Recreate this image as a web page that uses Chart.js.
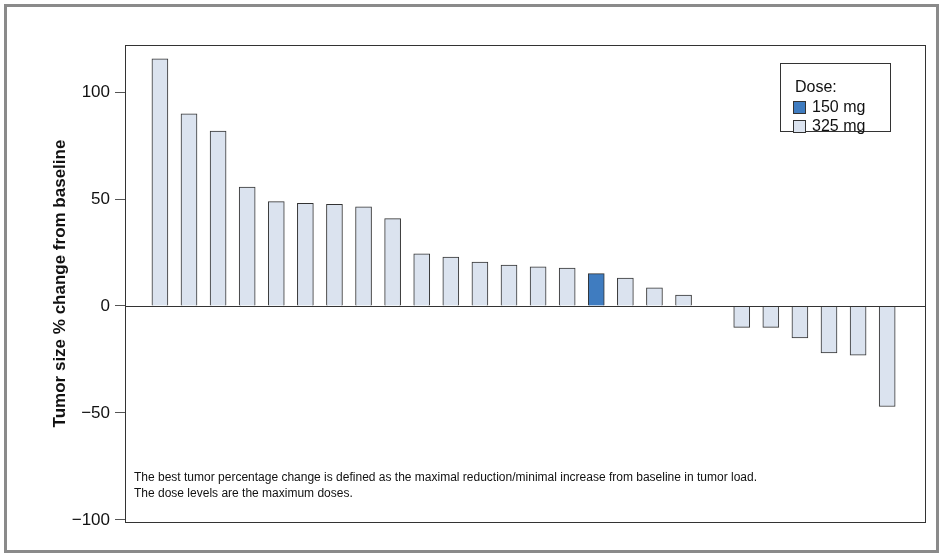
<!DOCTYPE html>
<html>
<head>
<meta charset="utf-8">
<script src="https://cdn.jsdelivr.net/npm/chart.js@4"></script>
<style>
  body { margin: 0; background: #fff; }
  #frame { position: absolute; left: 4px; top: 4px; width: 929px; height: 543px; border: 3px solid #8a8a8a; }
  #wrap { position: absolute; left: 0; top: 0; width: 941px; height: 555px; }
</style>
</head>
<body>
<div id="frame"></div>
<div id="wrap"><canvas id="c" width="941" height="555"></canvas></div>
<script>
const positions = [0,1,2,3,4,5,6,7,8,9,10,11,12,13,14,15,16,17,18,20,21,22,23,24,25];
const changes = [115.5,89.8,81.8,55.6,48.8,48,47.5,46.4,40.8,24.4,22.8,20.5,19.1,18.3,17.7,15.1,13,8.5,5.1,-10,-10,-15,-22,-23,-47];
const doses = [325,325,325,325,325,325,325,325,325,325,325,325,325,325,325,150,325,325,325,325,325,325,325,325,325];
const yTicks = [100, 50, 0, -50, -100];
const footnote = [
  "The best tumor percentage change is defined as the maximal reduction/minimal increase from baseline in tumor load.",
  "The dose levels are the maximum doses."
];
const doseColor = { 150: "#3f7cc0", 325: "#dbe3ef" };

const boxPlugin = {
  id: "box",
  afterDraw(chart) {
    const { ctx, chartArea: a, scales } = chart;
    ctx.save();
    ctx.strokeStyle = "#333";
    ctx.lineWidth = 1;
    ctx.strokeRect(a.left + 0.5, a.top + 0.5, a.right - a.left, a.bottom - a.top);
    const y0 = Math.round(scales.y.getPixelForValue(0)) + 0.5;
    ctx.beginPath(); ctx.moveTo(a.left, y0); ctx.lineTo(a.right, y0); ctx.stroke();
    // legend
    ctx.fillStyle = "#fff";
    ctx.fillRect(780, 63, 110, 68);
    ctx.strokeRect(780.5, 63.5, 110, 68);
    ctx.fillStyle = "#111";
    ctx.font = "16px 'Liberation Sans', Arial, sans-serif";
    ctx.textBaseline = "middle";
    ctx.fillText("Dose:", 795, 88);
    [[150, 108], [325, 127]].forEach(([d, y]) => {
      ctx.fillStyle = doseColor[d];
      ctx.fillRect(793, y - 7, 13, 13);
      ctx.strokeStyle = "#333";
      ctx.strokeRect(793.5, y - 6.5, 12, 12);
      ctx.fillStyle = "#111";
      ctx.fillText(d + " mg", 812, y);
    });
    ctx.font = "12px 'Liberation Sans', Arial, sans-serif";
    footnote.forEach((t, i) => ctx.fillText(t, 134, 478 + i * 16));
    ctx.restore();
  }
};

new Chart(document.getElementById("c"), {
  type: "bar",
  data: {
    datasets: [{
      data: positions.map((p, i) => ({ x: p, y: changes[i] })),
      backgroundColor: doses.map(d => doseColor[d]),
      borderColor: "#333",
      borderWidth: 1,
      barThickness: 16
    }]
  },
  options: {
    responsive: false,
    animation: false,
    layout: { padding: { top: 45, right: 16, bottom: 33, left: 50 } },
    plugins: { legend: { display: false }, tooltip: { enabled: false } },
    scales: {
      x: { type: "linear", offset: false, min: -1.2, max: 26.3, display: false },
      y: {
        min: -101, max: 122,
        afterFit: s => { s.width = 75; },
        afterBuildTicks: s => { s.ticks = yTicks.map(v => ({ value: v })); },
        border: { display: false },
        grid: { drawOnChartArea: false, drawTicks: true, tickLength: 10, color: "#555" },
        ticks: {
          color: "#111", padding: 5,
          font: { size: 17, family: "'Liberation Sans', Arial, sans-serif" },
          callback: v => v < 0 ? "\u2212" + Math.abs(v) : v
        },
        title: {
          display: true, text: "Tumor size % change from baseline", color: "#111",
          font: { size: 17, weight: "bold", family: "'Liberation Sans', Arial, sans-serif" },
          padding: { top: 0, bottom: 0 }
        }
      }
    }
  },
  plugins: [boxPlugin]
});
</script>
</body>
</html>
